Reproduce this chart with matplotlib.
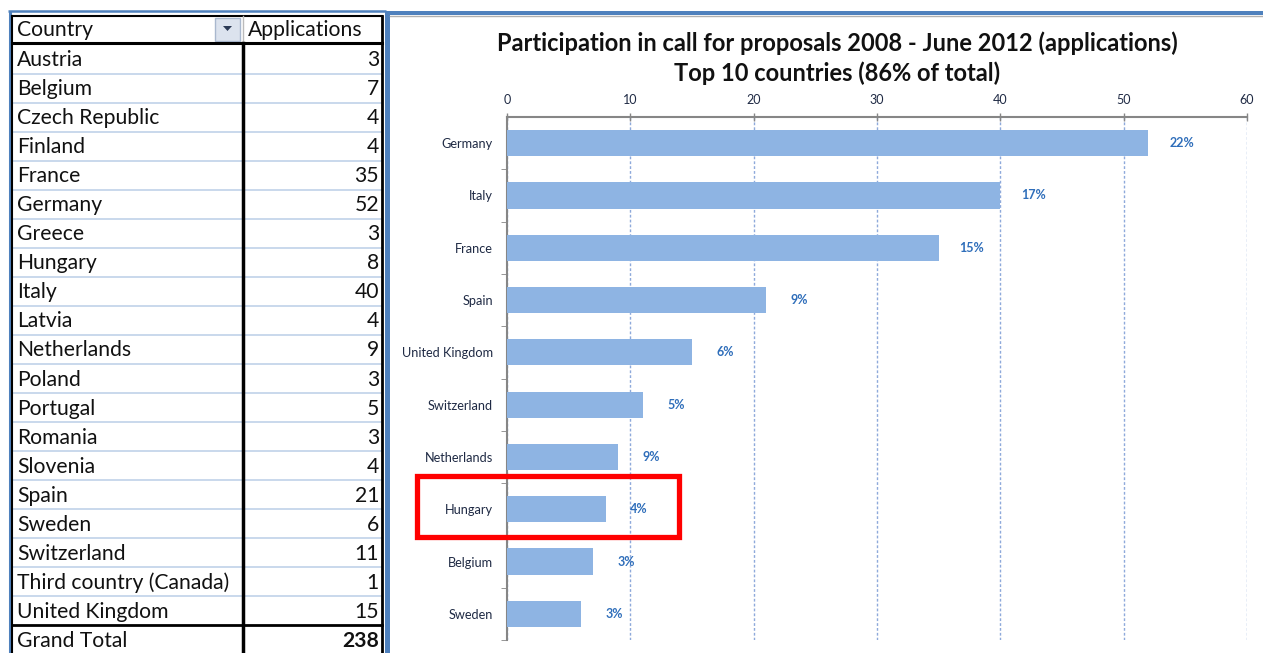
import matplotlib.pyplot as plt
from matplotlib.patches import Rectangle, Polygon
from matplotlib.ticker import MultipleLocator, FixedLocator

# pivot table: applications per country
countries = ["Austria", "Belgium", "Czech Republic", "Finland", "France", "Germany",
             "Greece", "Hungary", "Italy", "Latvia", "Netherlands", "Poland",
             "Portugal", "Romania", "Slovenia", "Spain", "Sweden", "Switzerland",
             "Third country (Canada)", "United Kingdom"]
applications = [3, 7, 4, 4, 35, 52, 3, 8, 40, 4, 9, 3, 5, 3, 4, 21, 6, 11, 1, 15]

# top 10 chart
top_countries = ["Germany", "Italy", "France", "Spain", "United Kingdom",
                 "Switzerland", "Netherlands", "Hungary", "Belgium", "Sweden"]
top_values = [52, 40, 35, 21, 15, 11, 9, 8, 7, 6]
share_labels = ["22%", "17%", "15%", "9%", "6%", "5%", "9%", "4%", "3%", "3%"]
highlight = "Hungary"

W, H = 1263, 653
FONT = ["Lato", "DejaVu Sans"]
BLUE_FRAME = "#4F81BD"
BAR = "#8EB4E3"
GRID = "#8EA9DB"
AXIS = "#868686"
TXT = 15.2

plt.rcParams["font.family"] = FONT

fig = plt.figure(figsize=(W / 100, H / 100), dpi=100)
fig.patch.set_facecolor("white")

# pixel-space layer for the table and window frames
bg = fig.add_axes([0, 0, 1, 1])
bg.set_xlim(0, W)
bg.set_ylim(H, 0)
bg.axis("off")

# frames
bg.plot([8, 386], [11, 11], color=BLUE_FRAME, lw=1.8, solid_capstyle="butt")
bg.plot([9.5, 9.5], [11, H], color=BLUE_FRAME, lw=2.2, solid_capstyle="butt")
bg.add_patch(Rectangle((385, 11), 5, H - 11, color=BLUE_FRAME, lw=0))
bg.add_patch(Rectangle((388, 10.5), W - 388, 4, color=BLUE_FRAME, lw=0))
bg.plot([390, W], [15.5, 15.5], color="#B0B0B0", lw=1)

# table geometry
x0, xmid, x1 = 12, 243, 382
head_top, head_bot = 16, 44
row_h = (640 - 59) / 20
first_center = 59

rows = list(zip(countries, applications)) + [("Grand Total", sum(applications))]

# light row separators
for i in range(len(rows) - 2):
    yb = first_center + row_h * i + row_h / 2
    bg.plot([x0, x1], [yb, yb], color="#C5D5EA", lw=1.3)

for i, (name, val) in enumerate(rows):
    yc = first_center + row_h * i
    bold = name == "Grand Total"
    bg.text(17, yc + 1, name, fontsize=TXT, color="#111111", va="center", ha="left")
    bg.text(379, yc + 1, str(val), fontsize=TXT, color="#111111", va="center", ha="right",
            fontweight="bold" if bold else "normal")

# header
bg.text(17, 30, "Country", fontsize=TXT, color="#111111", va="center", ha="left")
bg.text(248, 30, "Applications", fontsize=TXT, color="#111111", va="center", ha="left")
bg.add_patch(Rectangle((215, 18), 25, 23, facecolor="#DCE3EE", edgecolor="#A9B8CE", lw=1))
bg.add_patch(Polygon([[223, 26], [232, 26], [227.5, 31]], closed=True, color="#2B3A55", lw=0))

# black borders
bg.plot([x0, x0], [head_top, H], color="black", lw=1.5)
bg.plot([x1, x1], [head_top, H], color="black", lw=2)
bg.plot([x0, x1], [head_top, head_top], color="black", lw=1.5)
bg.plot([x0, x1], [head_bot - 1.5, head_bot - 1.5], color="black", lw=2.2)
bg.plot([xmid, xmid], [head_top, head_bot], color="#BBBBBB", lw=1)
bg.plot([xmid, xmid], [head_bot - 1.5, H], color="black", lw=2.5)
gt_top = first_center + row_h * (len(rows) - 1) - row_h / 2
bg.plot([x0, x1], [gt_top, gt_top], color="black", lw=2)

# bar chart
ax = fig.add_axes([507 / W, 1 - 640 / H, (1247 - 507) / W, (640 - 117) / H])
ax.set_facecolor("none")
ypos = list(range(len(top_countries)))
ax.barh(ypos, top_values, height=0.5, color=BAR, edgecolor="none", zorder=3)

ax.set_xlim(0, 60)
ax.set_ylim(len(top_countries) - 0.5, -0.5)
ax.xaxis.tick_top()
ax.xaxis.set_major_locator(MultipleLocator(10))
ax.tick_params(axis="x", direction="inout", length=6, width=1, color=AXIS,
               labelsize=9, labelcolor="#1F2A44", pad=5)
ax.set_yticks(ypos)
ax.set_yticklabels(top_countries)
ax.yaxis.set_minor_locator(FixedLocator([i + 0.5 for i in ypos]))
ax.tick_params(axis="y", which="major", length=0, labelsize=9.2,
               labelcolor="#1F2A44", pad=10)
ax.tick_params(axis="y", which="minor", direction="out", length=4, color=AXIS)

for s in ["right", "bottom"]:
    ax.spines[s].set_visible(False)
for s in ["top", "left"]:
    ax.spines[s].set_color(AXIS)
    ax.spines[s].set_linewidth(1.5)

ax.grid(axis="x", color=GRID, linestyle=(0, (2, 1.5)), lw=1, zorder=1)

for y, v, lab in zip(ypos, top_values, share_labels):
    ax.annotate(lab, (v, y), xytext=(24, 0), textcoords="offset points",
                ha="center", va="center", fontsize=9, fontweight="bold",
                color="#2F6EBA")

# highlighted row
hi = top_countries.index(highlight)
ax.add_patch(Rectangle((-7.3, hi - 0.64), 21.25, 1.18, fill=False,
                       edgecolor="#FF0000", lw=3.8, clip_on=False, zorder=5))

fig.text(837 / W, 1 - 43 / H, "Participation in call for proposals 2008 - June 2012 (applications)",
         ha="center", va="center", fontsize=17, fontweight="bold", color="#111111")
fig.text(837 / W, 1 - 73 / H, "Top 10 countries (86% of total)",
         ha="center", va="center", fontsize=17, fontweight="bold", color="#111111")

fig.savefig("out.png", dpi=100)
